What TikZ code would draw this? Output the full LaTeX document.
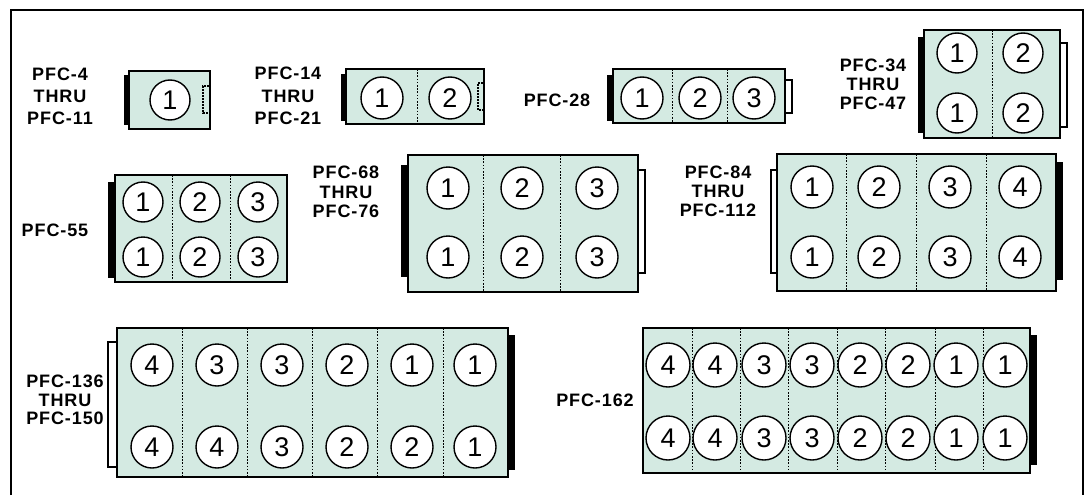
\documentclass[tikz,border=0pt]{standalone}
\usepackage{fontspec}
\setmainfont{Liberation Sans}
\newfontfamily\lblfont[LetterSpace=5]{Liberation Sans}
\definecolor{boxfill}{RGB}{212,234,226}
\tikzset{
  pfcbox/.style={draw=black, line width=1.6pt, fill=boxfill, inner sep=0pt, outer sep=0pt},
  endbar/.style={fill=black, draw=none},
  endcap/.style={draw=black, line width=1.1pt, fill=white},
  dotcap/.style={draw=black, line width=1.3pt, dash pattern=on 1.6pt off 1.4pt},
  divider/.style={draw=black, line width=1pt, dash pattern=on 1.6pt off 1.6pt},
  cyl/.style={circle, draw=black, line width=1.4pt, fill=white, inner sep=0pt, font=\fontsize{27}{27}\selectfont},
  lbl/.style={align=center, inner sep=0pt, font=\lblfont\bfseries\fontsize{18}{21}\selectfont},
  frame/.style={draw=black, line width=1.7pt},
}
\newcommand\mkbox[5]{\node[pfcbox, minimum width={#4-#2}, minimum height={#5-#3}] (#1) at ({(#2+#4)/2},{(#3+#5)/2}) {};}
\begin{document}
\begin{tikzpicture}[x=1pt,y=-1pt]
\useasboundingbox (0,0) rectangle (1091,495);
% outer frame
\draw[frame] (11,495) -- (11,10) -- (1083,10) -- (1083,495);

% ---------- box 1 : PFC-4 thru PFC-11
\mkbox{b1}{129}{71}{210}{129}
\fill[endbar] (124,75) rectangle (129,125);
\draw[dotcap] (209,86) -- (203,86) -- (203,113) -- (209,113);
\node[cyl, minimum size=40] (b1c1) at (170,100) {1};
\node[lbl, font=\lblfont\bfseries\fontsize{18}{22}\selectfont] (l1) at (60,96) {PFC-4\\THRU\\PFC-11};

% ---------- box 2 : PFC-14 thru PFC-21
\mkbox{b2}{346}{69}{484}{124}
\fill[endbar] (341,74) rectangle (346,121);
\draw[divider] (417,69) -- (417,124);
\draw[dotcap] (483,83) -- (478,83) -- (478,110) -- (483,110);
\node[cyl, minimum size=42] (b2c1) at (382,98) {1};
\node[cyl, minimum size=42] (b2c2) at (450,98) {2};
\node[lbl, font=\lblfont\bfseries\fontsize{18}{22.5}\selectfont] (l2) at (288,96) {PFC-14\\THRU\\PFC-21};

% ---------- box 3 : PFC-28
\mkbox{b3}{613}{69}{785}{123}
\fill[endbar] (607,75) rectangle (613,121);
\draw[endcap] (785,80) rectangle (792,113);
\draw[divider] (672,69) -- (672,123);
\draw[divider] (727,69) -- (727,123);
\node[cyl, minimum size=42] (b3c1) at (642,98) {1};
\node[cyl, minimum size=42] (b3c2) at (700,98) {2};
\node[cyl, minimum size=42] (b3c3) at (754,98) {3};
\node[lbl] (l3) at (557,100) {PFC-28};

% ---------- box 4 : PFC-34 thru PFC-47
\mkbox{b4}{924}{30}{1060}{138}
\fill[endbar] (918,37) rectangle (924,133);
\draw[endcap] (1060,43) rectangle (1067,127);
\draw[divider] (992,30) -- (992,138);
\node[cyl, minimum size=40] (b4c1) at (957,53) {1};
\node[cyl, minimum size=40] (b4c2) at (1023,53) {2};
\node[cyl, minimum size=40] (b4c3) at (957,113) {1};
\node[cyl, minimum size=40] (b4c4) at (1023,113) {2};
\node[lbl, font=\lblfont\bfseries\fontsize{18}{19}\selectfont] (l4) at (873,84) {PFC-34\\THRU\\PFC-47};

% ---------- box 5 : PFC-55
\mkbox{b5}{115}{175}{287}{282}
\fill[endbar] (108,182) rectangle (115,278);
\draw[divider] (172,175) -- (172,282);
\draw[divider] (230,175) -- (230,282);
\foreach \x/\n [count=\i] in {143/1,200/2,258/3}{
  \node[cyl, minimum size=40] (b5t\i) at (\x,202) {\n};
  \node[cyl, minimum size=40] (b5b\i) at (\x,257) {\n};
}
\node[lbl] (l5) at (55,230) {PFC-55};

% ---------- box 6 : PFC-68 thru PFC-76
\mkbox{b6}{408}{155}{638}{292}
\fill[endbar] (401,165) rectangle (408,277);
\draw[endcap] (638,170) rectangle (645,273);
\draw[divider] (483,155) -- (483,292);
\draw[divider] (560,155) -- (560,292);
\foreach \x/\n [count=\i] in {448/1,522/2,597/3}{
  \node[cyl, minimum size=42] (b6t\i) at (\x,188) {\n};
  \node[cyl, minimum size=42] (b6b\i) at (\x,257) {\n};
}
\node[lbl, font=\lblfont\bfseries\fontsize{18}{19.5}\selectfont] (l6) at (346,192) {PFC-68\\THRU\\PFC-76};

% ---------- box 7 : PFC-84 thru PFC-112
\mkbox{b7}{777}{154}{1056}{291}
\fill[endbar] (1056,162) rectangle (1063,280);
\draw[endcap] (771,170) rectangle (777,273);
\foreach \x in {846,916,986}{\draw[divider] (\x,154) -- (\x,291);}
\foreach \x/\n [count=\i] in {812/1,879/2,950/3,1020/4}{
  \node[cyl, minimum size=42] (b7t\i) at (\x,187) {\n};
  \node[cyl, minimum size=42] (b7b\i) at (\x,257) {\n};
}
\node[lbl, font=\lblfont\bfseries\fontsize{18}{19}\selectfont] (l7) at (718,191) {PFC-84\\THRU\\PFC-112};

% ---------- box 8 : PFC-136 thru PFC-150
\mkbox{b8}{117}{328}{508}{477}
\draw[endcap] (108,342) rectangle (117,467);
\fill[endbar] (508,335) rectangle (515,470);
\foreach \x in {182,247,312,377,443}{\draw[divider] (\x,328) -- (\x,477);}
\foreach \x/\t/\b [count=\i] in {152/4/4,217/3/4,282/3/3,347/2/2,412/1/2,475/1/1}{
  \node[cyl, minimum size=42] (b8t\i) at (\x,365) {\t};
  \node[cyl, minimum size=42] (b8b\i) at (\x,447) {\b};
}
\node[lbl, font=\lblfont\bfseries\fontsize{18}{18.5}\selectfont] (l8) at (65,400) {PFC-136\\THRU\\PFC-150};

% ---------- box 9 : PFC-162
\mkbox{b9}{643}{328}{1030}{473}
\fill[endbar] (1030,335) rectangle (1037,465);
\foreach \x in {692,740,788,837,885,935,983}{\draw[divider] (\x,328) -- (\x,473);}
\foreach \x/\n [count=\i] in {668/4,715/4,764/3,812/3,860/2,908/2,956/1,1005/1}{
  \node[cyl, minimum size=44] (b9t\i) at (\x,365) {\n};
  \node[cyl, minimum size=44] (b9b\i) at (\x,438) {\n};
}
\node[lbl] (l9) at (595,400) {PFC-162};
\end{tikzpicture}
\end{document}
